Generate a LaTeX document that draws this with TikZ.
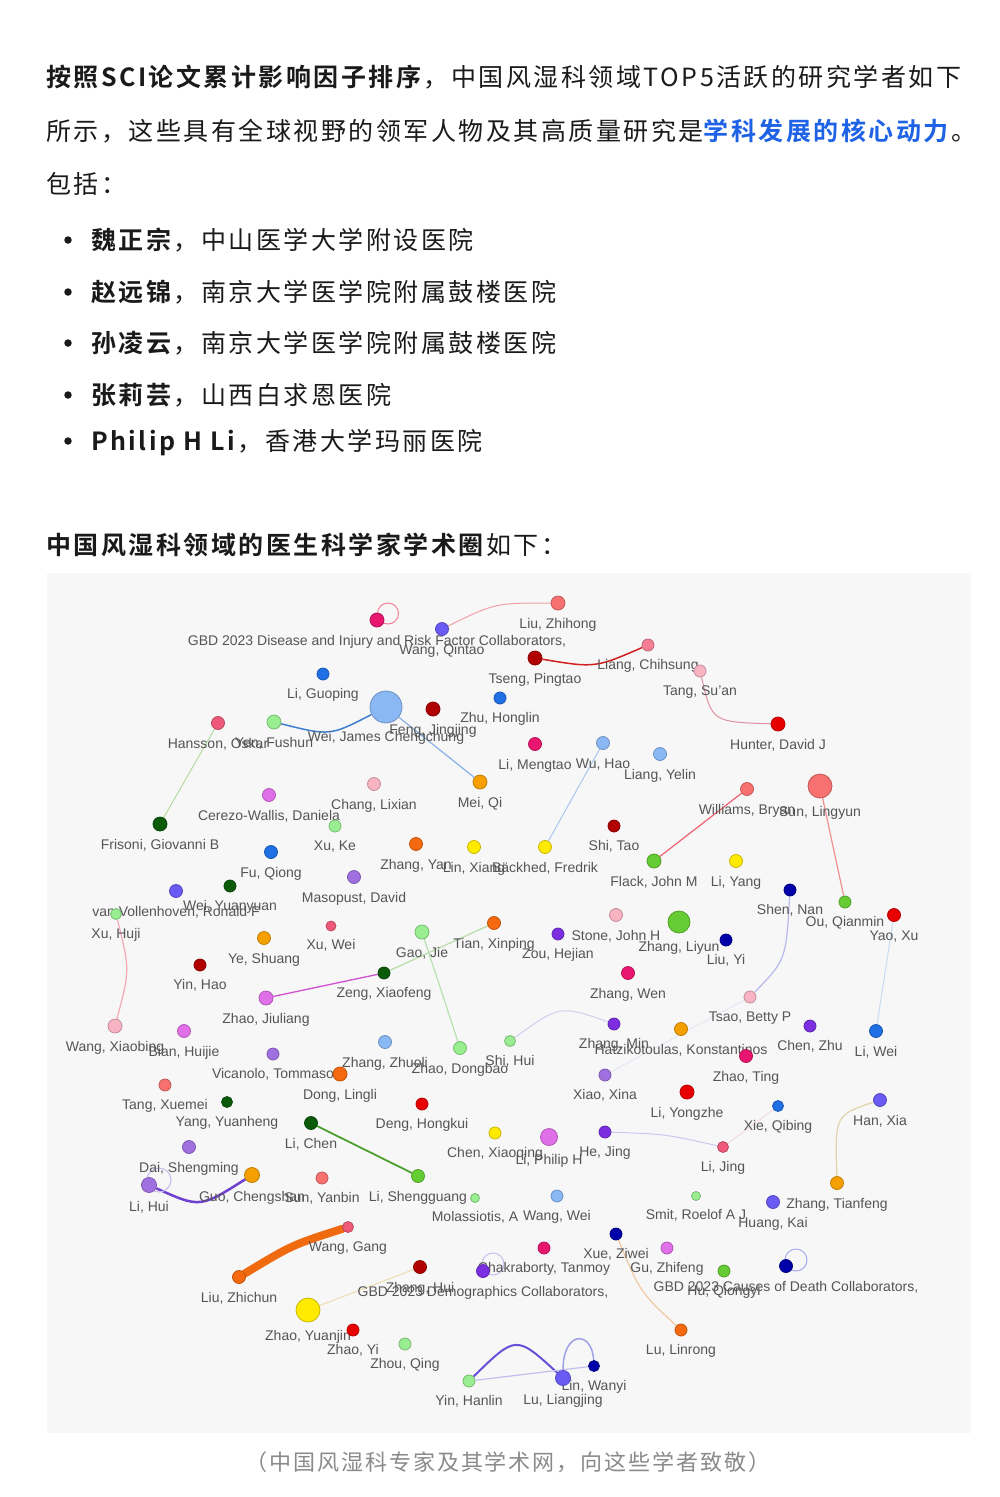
\documentclass[tikz,border=0pt]{standalone}
\usepackage{fontspec}
\setmainfont{Liberation Sans}
\newfontfamily\cjk[LetterSpace=10,BoldFont={Noto Sans CJK SC Bold}]{Noto Sans CJK SC}
\newfontfamily\cjkcap[LetterSpace=9]{Noto Sans CJK SC}
\definecolor{txt}{HTML}{1A1A1A}
\definecolor{hl}{HTML}{1E62E6}
\definecolor{capgray}{HTML}{8A8A8A}
\definecolor{boxbg}{HTML}{F7F7F7}
\definecolor{lblgray}{HTML}{555555}
\definecolor{npinkred}{HTML}{E8166E}
\definecolor{ndarkred}{HTML}{B00000}
\definecolor{nred}{HTML}{E80000}
\definecolor{nsalmon}{HTML}{F87171}
\definecolor{npink}{HTML}{F05A7A}
\definecolor{npinktwo}{HTML}{F47F95}
\definecolor{nlightpink}{HTML}{F9B4C4}
\definecolor{nblue}{HTML}{1F6FE5}
\definecolor{nlightblue}{HTML}{8AB8F5}
\definecolor{ndarkblue}{HTML}{0000A8}
\definecolor{nslate}{HTML}{6B5BF5}
\definecolor{npurple}{HTML}{7B2FE0}
\definecolor{nmpurple}{HTML}{A070E0}
\definecolor{nviolet}{HTML}{E070E8}
\definecolor{norange}{HTML}{F5A000}
\definecolor{ndorange}{HTML}{F56A10}
\definecolor{nyellow}{HTML}{FFEA00}
\definecolor{ndgreen}{HTML}{0A5A0A}
\definecolor{ngreen}{HTML}{66CC33}
\definecolor{nlgreen}{HTML}{98EE90}
% edge colours
\definecolor{eYenWei}{HTML}{3F7FD0}
\definecolor{eWeiMei}{HTML}{8CB4E8}
\definecolor{eHanFri}{HTML}{B5DCA0}
\definecolor{eLoopA}{HTML}{F08098}
\definecolor{eWqLz}{HTML}{F4A0A8}
\definecolor{eTsLi}{HTML}{D02020}
\definecolor{eTaHu}{HTML}{E090A0}
\definecolor{eWuBa}{HTML}{A8C8F0}
\definecolor{eFlWi}{HTML}{F06070}
\definecolor{eSuOu}{HTML}{F09090}
\definecolor{eShTs}{HTML}{B8B8F0}
\definecolor{eYaLi}{HTML}{C8DCF4}
\definecolor{eXuWa}{HTML}{F4A8B8}
\definecolor{eZhZe}{HTML}{D050D0}
\definecolor{eZeTi}{HTML}{B8DCA8}
\definecolor{eGaZh}{HTML}{B8E0B0}
\definecolor{eShZm}{HTML}{D0D0F0}
\definecolor{eXiTs}{HTML}{E6E6F4}
\definecolor{eHeLi}{HTML}{C8C8F0}
\definecolor{eLiXi}{HTML}{F4DAE2}
\definecolor{eLcLs}{HTML}{4CA030}
\definecolor{eLhGc}{HTML}{7040D0}
\definecolor{eLoopH}{HTML}{C8B8F0}
\definecolor{eHaZt}{HTML}{E0D4A8}
\definecolor{eLzWg}{HTML}{F06A10}
\definecolor{eYjZh}{HTML}{F0DCB0}
\definecolor{eLoopD}{HTML}{C0C0F0}
\definecolor{eXuLu}{HTML}{F0C8A0}
\definecolor{eLoopC}{HTML}{A8A8F0}
\definecolor{eYiLu}{HTML}{6A50D8}
\definecolor{eYiLw}{HTML}{C0C0F0}
\definecolor{eLuLw}{HTML}{A0A0E8}
\pgfdeclarelayer{back}
\pgfdeclarelayer{edges}
\pgfsetlayers{back,edges,main}
\tikzset{
  dot/.style={circle, inner sep=0pt, line width=0.8pt},
  lbl/.style={font=\fontsize{14}{16}\selectfont, text=lblgray, anchor=base, inner sep=0pt},
  ed/.style={line width=1pt},
  selfloop/.style={line width=1pt},
  bodytext/.style={anchor=base west, inner sep=0pt, text=txt, font=\cjk\fontsize{25}{29}\selectfont},
  bulletdot/.style={circle, fill=txt, inner sep=0pt, minimum size=7.5pt},
}
\newcommand\gn[6]{%
  \node[dot, minimum size={2*#4pt}, fill=#5, draw=#5!78!black] (#1) at (#2,#3) {};
  \node[lbl] (#1-l) at ([yshift={-#4pt-18.5pt}]#1.center) {#6};}
\begin{document}
\begin{tikzpicture}[x=1pt,y=-1pt]
\begin{pgfonlayer}{back}
\fill[white] (0,0) rectangle (1000,1497);
\fill[boxbg] (47,573) rectangle (971,1433);
\end{pgfonlayer}
\useasboundingbox (0,0) rectangle (1000,1497);

% ---------- top text ----------
\node[bodytext] (t1) at (46,86) {\textbf{按照SCI论文累计影响因子排序}，中国风湿科领域TOP5活跃的研究学者如下};
\node[bodytext] (t2) at (46,140) {所示，这些具有全球视野的领军人物及其高质量研究是\textcolor{hl}{\textbf{学科发展的核心动力}}。};
\node[bodytext] (t3) at (46,193) {包括：};
\node[bulletdot] (b1) at (68,240) {};
\node[bulletdot] (b2) at (68,292) {};
\node[bulletdot] (b3) at (68,343) {};
\node[bulletdot] (b4) at (68,395) {};
\node[bulletdot] (b5) at (68,441) {};
\node[bodytext] (p1) at (91,249) {\textbf{魏正宗}，中山医学大学附设医院};
\node[bodytext] (p2) at (91,301) {\textbf{赵远锦}，南京大学医学院附属鼓楼医院};
\node[bodytext] (p3) at (91,352) {\textbf{孙凌云}，南京大学医学院附属鼓楼医院};
\node[bodytext] (p4) at (91,404) {\textbf{张莉芸}，山西白求恩医院};
\node[bodytext] (p5) at (91,450) {\textbf{Philip H Li}，香港大学玛丽医院};
\node[bodytext] (h1) at (46,554) {\textbf{中国风湿科领域的医生科学家学术圈}如下：};
\node[anchor=base, inner sep=0pt, text=capgray, font=\cjkcap\fontsize{22}{25}\selectfont] (cap) at (508,1470) {（中国风湿科专家及其学术网，向这些学者致敬）};

% ---------- graph nodes ----------
\gn{gbdA}{377}{620}{7}{npinkred}{GBD 2023 Disease and Injury and Risk Factor Collaborators,}
\gn{liuzh}{558}{603}{7}{nsalmon}{Liu, Zhihong}
\gn{wangqt}{442}{629}{6.5}{nslate}{Wang, Qintao}
\gn{liguo}{323}{674}{6}{nblue}{Li, Guoping}
\gn{tseng}{535}{658}{7}{ndarkred}{Tseng, Pingtao}
\gn{liangch}{648}{645}{6}{npinktwo}{Liang, Chihsung}
\gn{tangsu}{700}{671}{6}{nlightpink}{Tang, Su'an}
\gn{hunter}{778}{724}{7}{nred}{Hunter, David J}
\gn{hansson}{218}{723}{6.5}{npink}{Hansson, Oskar}
\gn{yen}{274}{722}{7}{nlgreen}{Yen, Fushun}
\gn{wei}{386}{707}{16}{nlightblue}{Wei, James Chengchung}
\gn{feng}{433}{709}{7}{ndarkred}{Feng, Jingjing}
\gn{zhuhl}{500}{698}{6}{nblue}{Zhu, Honglin}
\gn{limt}{535}{744}{6.5}{npinkred}{Li, Mengtao}
\gn{wuhao}{603}{743}{6.5}{nlightblue}{Wu, Hao}
\gn{liangyl}{660}{754}{6.5}{nlightblue}{Liang, Yelin}
\gn{meiqi}{480}{782}{7}{norange}{Mei, Qi}
\gn{changlx}{374}{784}{6.5}{nlightpink}{Chang, Lixian}
\gn{cerezo}{269}{795}{6.5}{nviolet}{Cerezo-Wallis, Daniela}
\gn{williams}{747}{789}{6.5}{nsalmon}{Williams, Bryan}
\gn{sunly}{820}{786}{12}{nsalmon}{Sun, Lingyun}
\gn{frisoni}{160}{824}{7}{ndgreen}{Frisoni, Giovanni B}
\gn{xuke}{335}{826}{6}{nlgreen}{Xu, Ke}
\gn{shitao}{614}{826}{6}{ndarkred}{Shi, Tao}
\gn{zhangyan}{416}{844}{6.5}{ndorange}{Zhang, Yan}
\gn{linxiang}{474}{847}{6.5}{nyellow}{Lin, Xiang}
\gn{backhed}{545}{847}{6.5}{nyellow}{Bäckhed, Fredrik}
\gn{fuqiong}{271}{852}{6.5}{nblue}{Fu, Qiong}
\gn{flack}{654}{861}{7}{ngreen}{Flack, John M}
\gn{liyang}{736}{861}{6.5}{nyellow}{Li, Yang}
\gn{masopust}{354}{877}{6.5}{nmpurple}{Masopust, David}
\gn{weiyy}{230}{886}{6}{ndgreen}{Wei, Yuanyuan}
\gn{vanv}{176}{891}{6.5}{nslate}{van Vollenhoven, Ronald F}
\gn{shennan}{790}{890}{6}{ndarkblue}{Shen, Nan}
\gn{ouqm}{845}{902}{6}{ngreen}{Ou, Qianmin}
\gn{xuhuji}{116}{914}{5.5}{nlgreen}{Xu, Huji}
\gn{yaoxu}{894}{915}{6.5}{nred}{Yao, Xu}
\gn{stone}{616}{915}{6.5}{nlightpink}{Stone, John H}
\gn{zhangly}{679}{922}{11}{ngreen}{Zhang, Liyun}
\gn{tianxp}{494}{923}{6.5}{ndorange}{Tian, Xinping}
\gn{xuwei}{331}{926}{5}{npink}{Xu, Wei}
\gn{gaojie}{422}{932}{7}{nlgreen}{Gao, Jie}
\gn{zouhj}{558}{934}{6}{npurple}{Zou, Hejian}
\gn{yeshuang}{264}{938}{6.5}{norange}{Ye, Shuang}
\gn{liuyi}{726}{940}{6}{ndarkblue}{Liu, Yi}
\gn{yinhao}{200}{965}{6}{ndarkred}{Yin, Hao}
\gn{zengxf}{384}{973}{6}{ndgreen}{Zeng, Xiaofeng}
\gn{zhangwen}{628}{973}{6.5}{npinkred}{Zhang, Wen}
\gn{tsao}{750}{997}{6}{nlightpink}{Tsao, Betty P}
\gn{zhaojl}{266}{998}{7}{nviolet}{Zhao, Jiuliang}
\gn{zhangmin}{614}{1024}{6}{npurple}{Zhang, Min}
\gn{hatz}{681}{1029}{6.5}{norange}{Hatzikotoulas, Konstantinos}
\gn{chenzhu}{810}{1026}{6}{npurple}{Chen, Zhu}
\gn{liwei}{876}{1031}{6.5}{nblue}{Li, Wei}
\gn{wangxb}{115}{1026}{7}{nlightpink}{Wang, Xiaobing}
\gn{bianhj}{184}{1031}{6.5}{nviolet}{Bian, Huijie}
\gn{zhangzl}{385}{1042}{6.5}{nlightblue}{Zhang, Zhuoli}
\gn{shihui}{510}{1041}{5.5}{nlgreen}{Shi, Hui}
\gn{zhaodb}{460}{1048}{6.5}{nlgreen}{Zhao, Dongbao}
\gn{vicanolo}{273}{1054}{6}{nmpurple}{Vicanolo, Tommaso}
\gn{zhaoting}{746}{1056}{6.5}{npinkred}{Zhao, Ting}
\gn{dongll}{340}{1074}{7}{ndorange}{Dong, Lingli}
\gn{xiaoxina}{605}{1075}{6}{nmpurple}{Xiao, Xina}
\gn{tangxm}{165}{1085}{6}{nsalmon}{Tang, Xuemei}
\gn{liyz}{687}{1092}{7}{nred}{Li, Yongzhe}
\gn{hanxia}{880}{1100}{6.5}{nslate}{Han, Xia}
\gn{yangyh}{227}{1102}{5.5}{ndgreen}{Yang, Yuanheng}
\gn{denghk}{422}{1104}{6}{nred}{Deng, Hongkui}
\gn{xieqb}{778}{1106}{5.5}{nblue}{Xie, Qibing}
\gn{lichen}{311}{1123}{6.5}{ndgreen}{Li, Chen}
\gn{chenxq}{495}{1133}{6}{nyellow}{Chen, Xiaoqing}
\gn{hejing}{605}{1132}{6}{npurple}{He, Jing}
\gn{liphilip}{549}{1137}{8.5}{nviolet}{Li, Philip H}
\gn{daisf}{189}{1147}{6.5}{nmpurple}{Dai, Shengming}
\gn{lijing}{723}{1147}{5.5}{npink}{Li, Jing}
\gn{lishg}{418}{1176}{6.5}{ngreen}{Li, Shengguang}
\gn{guocs}{252}{1175}{7.5}{norange}{Guo, Chengshan}
\gn{sunyb}{322}{1178}{6}{nsalmon}{Sun, Yanbin}
\gn{zhangtf}{837}{1183}{6.5}{norange}{Zhang, Tianfeng}
\gn{lihui}{149}{1185}{7.5}{nmpurple}{Li, Hui}
\gn{molas}{475}{1198}{4.5}{nlgreen}{Molassiotis, A}
\gn{wangwei}{557}{1196}{6}{nlightblue}{Wang, Wei}
\gn{smit}{696}{1196}{4.5}{nlgreen}{Smit, Roelof A J}
\gn{huangkai}{773}{1202}{6.5}{nslate}{Huang, Kai}
\gn{wanggang}{348}{1227}{5.5}{npink}{Wang, Gang}
\gn{xueziwei}{616}{1234}{6}{ndarkblue}{Xue, Ziwei}
\gn{chakra}{544}{1248}{6}{npinkred}{Chakraborty, Tanmoy}
\gn{guzf}{667}{1248}{6}{nviolet}{Gu, Zhifeng}
\gn{gbdC}{786}{1266}{6.5}{ndarkblue}{GBD 2023 Causes of Death Collaborators,}
\gn{zhanghui}{420}{1267}{6.5}{ndarkred}{Zhang, Hui}
\gn{gbdD}{483}{1271}{6.5}{npurple}{GBD 2023 Demographics Collaborators,}
\gn{huqy}{724}{1271}{6}{ngreen}{Hu, Qiongyi}
\gn{liuzc}{239}{1277}{6.5}{ndorange}{Liu, Zhichun}
\gn{zhaoyj}{308}{1310}{12}{nyellow}{Zhao, Yuanjin}
\gn{zhaoyi}{353}{1330}{6}{nred}{Zhao, Yi}
\gn{lulr}{681}{1330}{6}{ndorange}{Lu, Linrong}
\gn{zhouqing}{405}{1344}{6}{nlgreen}{Zhou, Qing}
\gn{linwanyi}{594}{1366}{5.5}{ndarkblue}{Lin, Wanyi}
\gn{yinhl}{469}{1381}{6}{nlgreen}{Yin, Hanlin}
\gn{lulj}{563}{1378}{7.5}{nslate}{Lu, Liangjing}

% ---------- edges ----------
\begin{pgfonlayer}{edges}
\draw[ed, line width=1.5pt, eYenWei] (yen) .. controls (330,736) .. (wei);
\draw[ed, line width=1.3pt, eWeiMei] (wei) -- (meiqi);
\draw[ed, eHanFri] (hansson) -- (frisoni);
\draw[selfloop, eLoopA] ([xshift=11pt,yshift=6.5pt]gbdA.center) circle[radius=10.5pt];
\draw[ed, eWqLz] (wangqt) .. controls (495,603) .. (liuzh);
\draw[ed, line width=1.5pt, eTsLi] (tseng) .. controls (595,668) .. (liangch);
\draw[ed, eTaHu] (tangsu) .. controls (712,722) .. (hunter);
\draw[ed, eWuBa] (wuhao) -- (backhed);
\draw[ed, line width=1.2pt, eFlWi] (flack) -- (williams);
\draw[ed, line width=1.2pt, eSuOu] (sunly) -- (ouqm);
\draw[ed, line width=1.2pt, eShTs] (shennan) .. controls (786,960) .. (tsao);
\draw[ed, eYaLi] (yaoxu) -- (liwei);
\draw[ed, line width=1.2pt, eXuWa] (xuhuji) .. controls (130,970) .. (wangxb);
\draw[ed, line width=1.3pt, eZhZe] (zhaojl) -- (zengxf);
\draw[ed, line width=1.2pt, eZeTi] (zengxf) -- (tianxp);
\draw[ed, line width=1.2pt, eGaZh] (gaojie) -- (zhaodb);
\draw[ed, eShZm] (shihui) .. controls (560,1005) .. (zhangmin);
\draw[ed, eXiTs] (xiaoxina) -- (tsao);
\draw[ed, eHeLi] (hejing) .. controls (665,1134) .. (lijing);
\draw[ed, eLiXi] (lijing) -- (xieqb);
\draw[ed, line width=1.8pt, eLcLs] (lichen) -- (lishg);
\draw[ed, line width=2.5pt, eLhGc] (lihui) .. controls (200,1208) .. (guocs);
\draw[selfloop, eLoopH] ([xshift=10pt,yshift=5pt]lihui.center) circle[radius=12pt];
\draw[ed, line width=1.2pt, eHaZt] (hanxia) .. controls (835,1115) .. (zhangtf);
\draw[ed, line width=8pt, line cap=round, eLzWg] (liuzc) .. controls (292,1245) .. (wanggang);
\draw[ed, eYjZh] (zhaoyj) -- (zhanghui);
\draw[selfloop, eLoopD] ([xshift=10pt,yshift=7pt]gbdD.center) circle[radius=11pt];
\draw[ed, line width=1.2pt, eXuLu] (xueziwei) .. controls (640,1292) .. (lulr);
\draw[selfloop, eLoopC] ([xshift=10pt,yshift=6pt]gbdC.center) circle[radius=11pt];
\draw[ed, line width=2pt, eYiLu] (yinhl) .. controls (516,1335) .. (lulj);
\draw[ed, line width=1.2pt, eYiLw] (yinhl) -- (linwanyi);
\draw[ed, line width=1.5pt, eLuLw] (lulj) .. controls (563,1330) and (592,1330) .. (linwanyi);
\end{pgfonlayer}
\end{tikzpicture}
\end{document}
